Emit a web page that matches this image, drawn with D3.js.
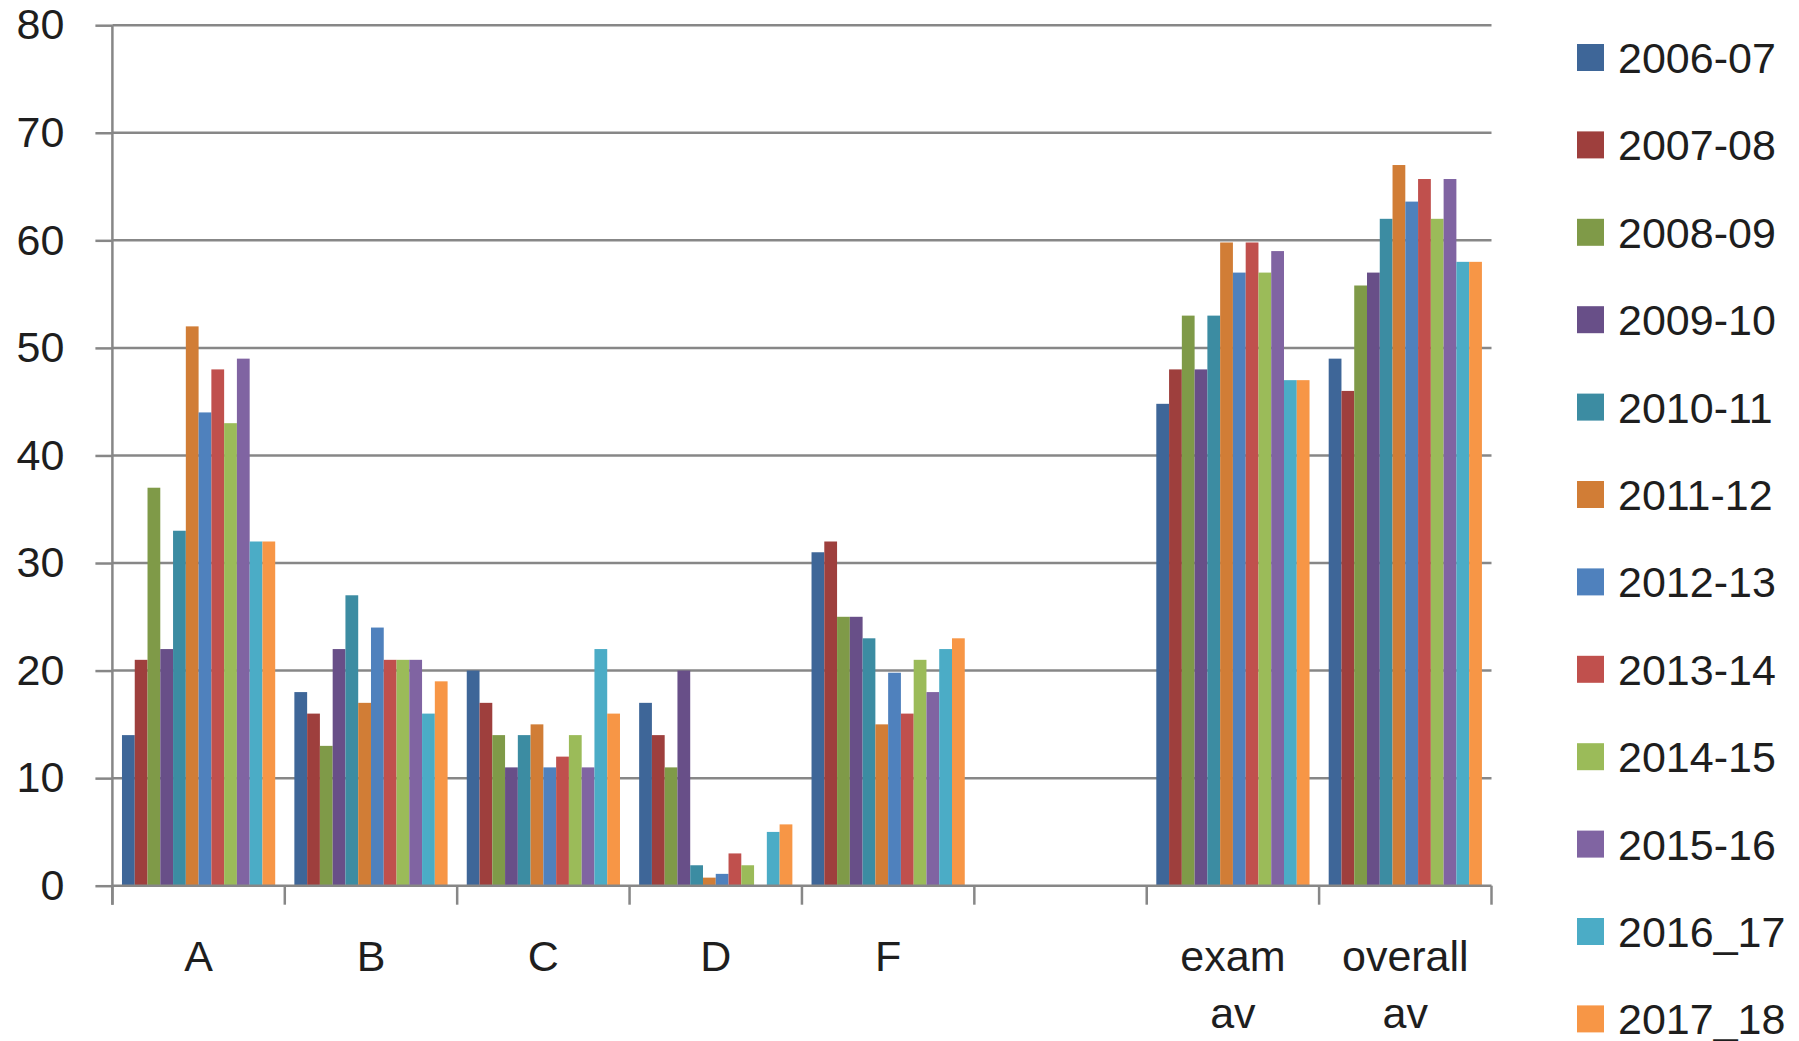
<!DOCTYPE html>
<html>
<head>
<meta charset="utf-8">
<script src="https://cdn.jsdelivr.net/npm/d3@7"></script>
<style>
  html, body { margin: 0; padding: 0; background: #fff; }
  svg { display: block; }
  text { font-family: "Liberation Sans", Arial, sans-serif; fill: #1e1e1e; }
</style>
</head>
<body>
<svg id="chart" width="1799" height="1041"></svg>
<script>
// ---- data ----
const categories = ["A", "B", "C", "D", "F", "", "exam av", "overall av"];
const seriesNames = ["2006-07", "2007-08", "2008-09", "2009-10", "2010-11", "2011-12",
                     "2012-13", "2013-14", "2014-15", "2015-16", "2016_17", "2017_18"];
const s2006_07 = [14, 18, 20, 17, 31, null, 44.8, 49];
const s2007_08 = [21, 16, 17, 14, 32, null, 48, 46];
const s2008_09 = [37, 13, 14, 11, 25, null, 53, 55.8];
const s2009_10 = [22, 22, 11, 20, 25, null, 48, 57];
const s2010_11 = [33, 27, 14, 1.9, 23, null, 53, 62];
const s2011_12 = [52, 17, 15, 0.75, 15, null, 59.8, 67];
const s2012_13 = [44, 24, 11, 1.1, 19.8, null, 57, 63.6];
const s2013_14 = [48, 21, 12, 3, 16, null, 59.8, 65.7];
const s2014_15 = [43, 21, 14, 1.9, 21, null, 57, 62];
const s2015_16 = [49, 21, 11, 0, 18, null, 59, 65.7];
const s2016_17 = [32, 16, 22, 5, 22, null, 47, 58];
const s2017_18 = [32, 19, 16, 5.7, 23, null, 47, 58];
const seriesValues = [s2006_07, s2007_08, s2008_09, s2009_10, s2010_11, s2011_12,
                      s2012_13, s2013_14, s2014_15, s2015_16, s2016_17, s2017_18];
const seriesColors = ["#3E6698", "#9E3F3D", "#7F9A48", "#684F88", "#3C8CA2", "#D17D36",
                      "#4F81BD", "#C0504D", "#9BBB59", "#8064A2", "#4BACC6", "#F79646"];
const yTicks = [0, 10, 20, 30, 40, 50, 60, 70, 80];

// ---- layout ----
const svg = d3.select("#chart");
const plotLeft = 112.4, plotRight = 1491.5, plotTop = 25.2, plotBottom = 885.7;
const gridColor = "#878787";
const fontSize = 43;

const x = d3.scaleBand().domain(categories).range([plotLeft, plotRight]).padding(0);
const x1 = d3.scaleBand().domain(seriesNames).range([0, x.bandwidth()])
  .paddingInner(0).paddingOuter(0.75);
const y = d3.scaleLinear().domain([0, 80]).range([plotBottom, plotTop]);

// gridlines
svg.append("g").selectAll("line").data(yTicks.filter(d => d > 0)).join("line")
  .attr("x1", plotLeft).attr("x2", plotRight)
  .attr("y1", d => y(d)).attr("y2", d => y(d))
  .attr("stroke", gridColor).attr("stroke-width", 2.5);

// bars
const flat = [];
seriesValues.forEach((vals, si) => {
  vals.forEach((v, ci) => {
    if (v !== null && v > 0) flat.push({ cat: categories[ci], series: seriesNames[si], value: v, color: seriesColors[si] });
  });
});
svg.append("g").selectAll("rect").data(flat).join("rect")
  .attr("x", d => x(d.cat) + x1(d.series))
  .attr("width", x1.bandwidth())
  .attr("y", d => y(d.value))
  .attr("height", d => y(0) - y(d.value))
  .attr("fill", d => d.color);

// y axis
const yAxis = d3.axisLeft(y).tickValues(yTicks).tickSize(17).tickPadding(31).tickSizeOuter(0);
const gy = svg.append("g").attr("transform", `translate(${plotLeft},0)`).call(yAxis);
gy.select(".domain").remove();
gy.selectAll(".tick line").attr("stroke", gridColor).attr("stroke-width", 2.5);
gy.selectAll(".tick text").attr("font-size", fontSize).attr("fill", "#1e1e1e")
  .style("font-family", '"Liberation Sans", Arial, sans-serif');
svg.append("line").attr("x1", plotLeft).attr("x2", plotLeft).attr("y1", plotTop).attr("y2", plotBottom + 19)
  .attr("stroke", gridColor).attr("stroke-width", 2.5);

// x axis line + boundary ticks
svg.append("line").attr("x1", plotLeft).attr("x2", plotRight).attr("y1", plotBottom).attr("y2", plotBottom)
  .attr("stroke", gridColor).attr("stroke-width", 2.5);
const boundaries = categories.map(c => x(c)).concat([x.range()[1]]);
svg.append("g").selectAll("line").data(boundaries).join("line")
  .attr("x1", d => d).attr("x2", d => d)
  .attr("y1", plotBottom).attr("y2", plotBottom + 19)
  .attr("stroke", gridColor).attr("stroke-width", 2.5);

// category labels (multi-line)
const lab = svg.append("g").selectAll("text").data(categories).join("text")
  .attr("text-anchor", "middle")
  .attr("font-size", fontSize)
  .attr("x", d => x(d) + x.bandwidth() / 2)
  .attr("y", 971);
lab.each(function (d) {
  const words = d.split(" ");
  d3.select(this).selectAll("tspan").data(words).join("tspan")
    .attr("x", x(d) + x.bandwidth() / 2)
    .attr("dy", (w, i) => i === 0 ? 0 : 57)
    .text(w => w);
});

// legend
const leg = svg.append("g").selectAll("g").data(seriesNames).join("g")
  .attr("transform", (d, i) => `translate(1577, ${57.5 + i * 87.4})`);
leg.append("rect").attr("x", 0).attr("y", -13.5).attr("width", 27).attr("height", 27)
  .attr("fill", (d, i) => seriesColors[i]);
leg.append("text").attr("x", 41).attr("y", 0).attr("dy", "0.36em")
  .attr("font-size", fontSize).text(d => d);
</script>
</body>
</html>
